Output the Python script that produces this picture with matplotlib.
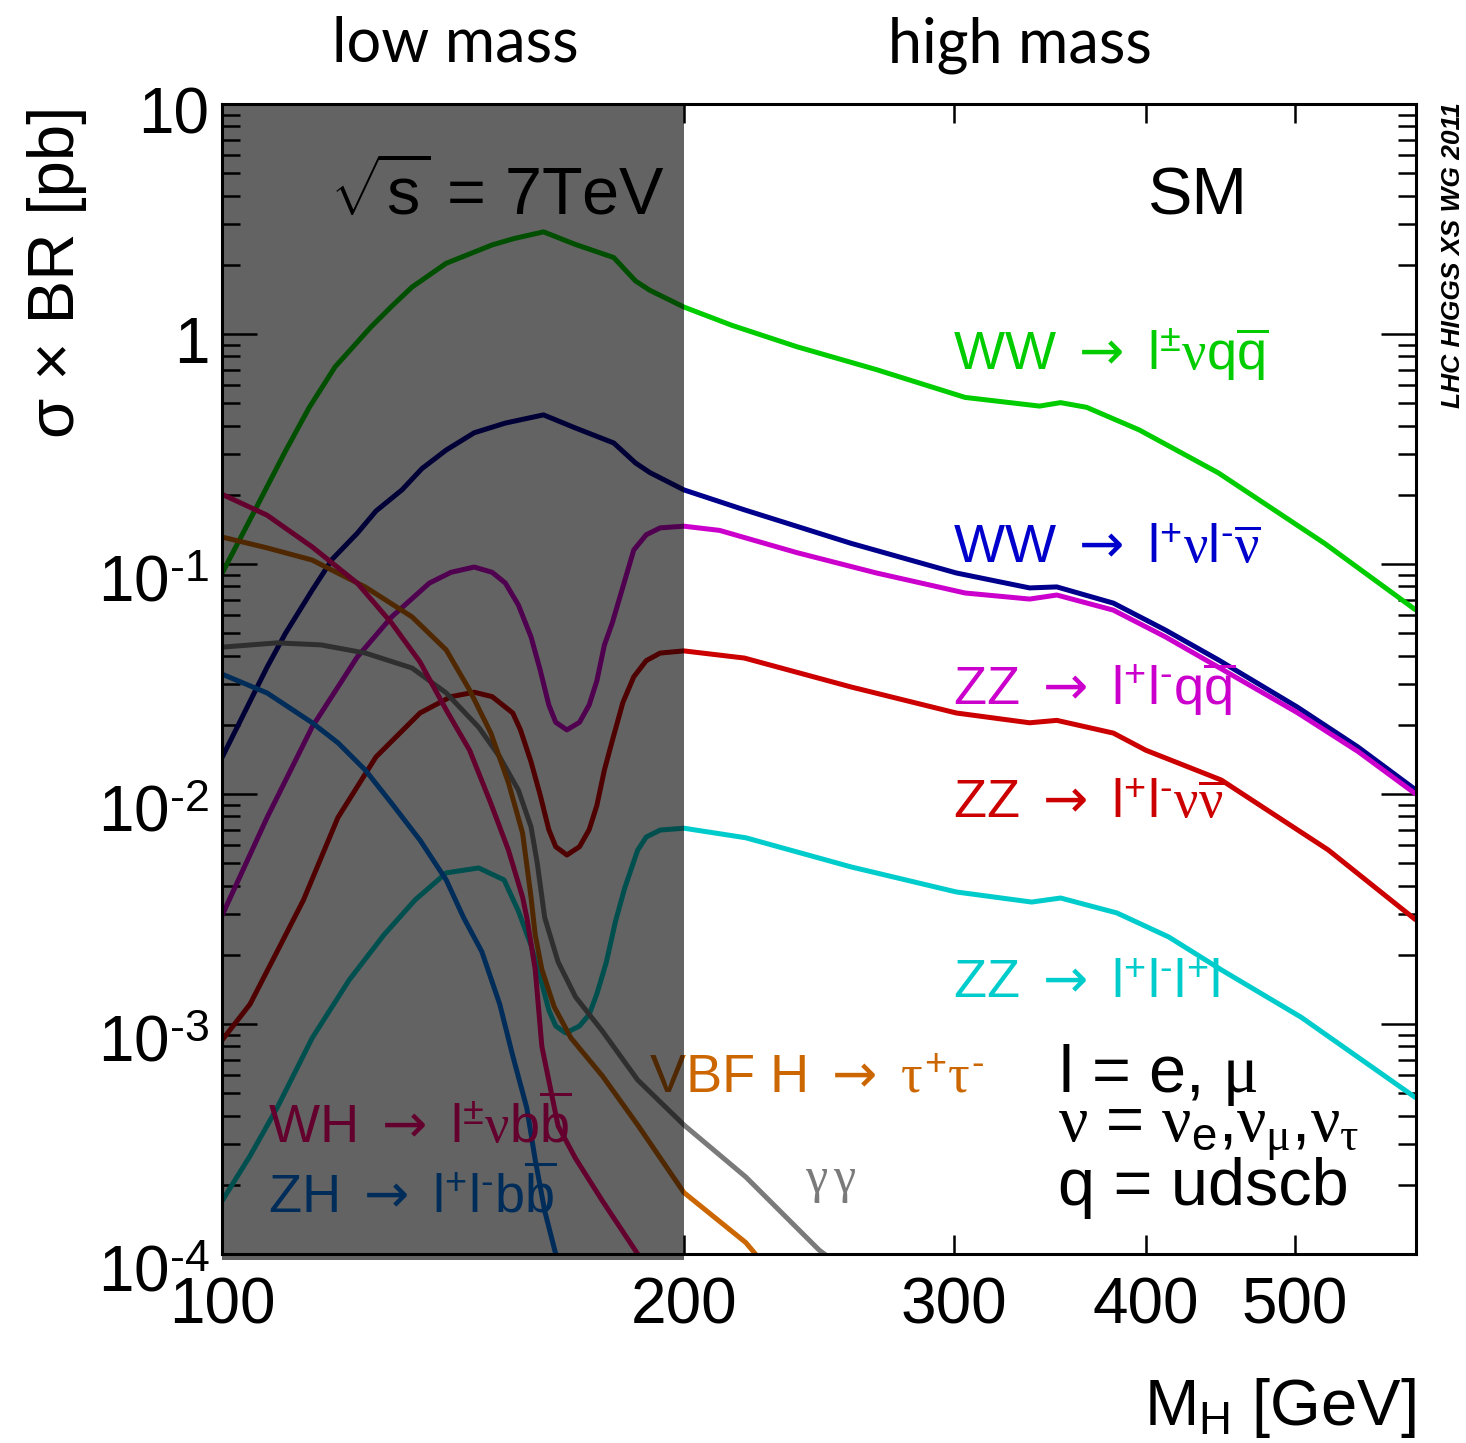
import matplotlib
matplotlib.use("Agg")
import matplotlib.pyplot as plt
import matplotlib.transforms as mtransforms
from matplotlib.patches import Rectangle
from matplotlib.ticker import LogLocator, NullLocator, NullFormatter

plt.rcParams['font.family'] = ['Liberation Sans', 'DejaVu Sans']
plt.rcParams['mathtext.fontset'] = 'custom'
plt.rcParams['mathtext.rm'] = 'Liberation Sans'
plt.rcParams['mathtext.it'] = 'Liberation Serif'
plt.rcParams['mathtext.bf'] = 'Liberation Sans:bold'
plt.rcParams['mathtext.sf'] = 'DejaVu Sans'

# sigma x BR [pb] against M_H [GeV], 7 TeV
m_ww_lvqq = [100, 105, 110, 114, 118.5, 125, 129, 133, 140, 150, 155, 162, 170, 180, 186, 190, 200,
             215, 237, 267, 305, 341, 352, 366, 396, 446, 523, 600]
xs_ww_lvqq = [0.091, 0.17, 0.31, 0.48, 0.72, 1.07, 1.32, 1.6, 2.03, 2.44, 2.6, 2.78, 2.45, 2.15, 1.7, 1.55, 1.31,
              1.09, 0.88, 0.70, 0.53, 0.486, 0.503, 0.48, 0.383, 0.249, 0.123, 0.063]

m_ww_lvlv = [100, 107, 110, 114.5, 118, 122.5, 126, 131, 135, 140, 146, 153, 162, 170, 180, 186, 190, 200, 219,
             257, 301, 336, 350, 381, 412, 446, 502, 550, 600]
xs_ww_lvlv = [0.0144, 0.0356, 0.05, 0.077, 0.105, 0.136, 0.17, 0.21, 0.26, 0.313, 0.372, 0.41, 0.445, 0.39, 0.336, 0.275, 0.25, 0.21, 0.172,
              0.123, 0.0914, 0.0787, 0.0795, 0.0676, 0.0516, 0.0383, 0.0239, 0.016, 0.0104]

m_zz_llqq = [100, 107, 114.5, 122.5, 129, 136.5, 141, 146, 150, 153, 156, 159, 161.2, 163.3, 165, 167.8, 171,
             173.5, 175.5, 177.5, 179.6, 185.5, 189, 193, 200, 211, 237, 267, 305, 336, 350, 381, 412, 446,
             502, 550, 600]
xs_zz_llqq = [0.00296, 0.0079, 0.0196, 0.0394, 0.0589, 0.0826, 0.092, 0.097, 0.092, 0.0826, 0.0664, 0.0482, 0.0346, 0.0244, 0.0205, 0.019, 0.0205,
              0.0244, 0.031, 0.0444, 0.0553, 0.115, 0.134, 0.1436, 0.146, 0.14, 0.112, 0.0914, 0.0748, 0.0704, 0.0733, 0.063, 0.0482, 0.0356,
              0.0226, 0.0153, 0.00998]

m_zz_llvv = [100, 104.3, 108.6, 113, 119, 126, 134.6, 141, 146, 150, 154.7, 156.5, 159, 161.2, 163.3, 165, 167.8,
             171, 173.5, 175.5, 177.5, 179.6, 182.5, 185.5, 189, 193, 200, 219, 257, 301, 336, 350, 381, 400,
             448, 526, 600]
xs_zz_llvv = [0.00085, 0.00122, 0.00206, 0.00346, 0.0079, 0.0145, 0.0225, 0.0265, 0.0277, 0.0265, 0.0225, 0.019, 0.0138, 0.0099, 0.007, 0.0059, 0.00543,
              0.0059, 0.007, 0.0089, 0.0127, 0.017, 0.025, 0.0323, 0.038, 0.041, 0.0419, 0.039, 0.0292, 0.0225, 0.0204, 0.0209, 0.0184, 0.0155,
              0.0115, 0.00571, 0.00283]

m_zz_4l = [100, 104.3, 108.6, 114.5, 121, 127.5, 133.6, 140, 147, 152.7, 156, 159, 161.2, 163.3, 165, 167.5,
           171, 173.5, 175.5, 178, 180.5, 183, 186.6, 189, 193, 200, 219.5, 257, 301, 337, 352, 383, 414, 448,
           505, 600]
xs_zz_4l = [0.00017, 0.000267, 0.000431, 0.00087, 0.00155, 0.00244, 0.00346, 0.00454, 0.00477, 0.00423, 0.0031, 0.0022, 0.0016, 0.00115, 0.00098, 0.000914,
            0.00098, 0.0011, 0.00135, 0.00185, 0.0028, 0.0039, 0.0057, 0.0065, 0.00697, 0.0071, 0.00645, 0.00482, 0.00375, 0.00339, 0.00353, 0.00304, 0.00239, 0.00172,
            0.00107, 0.000477]

m_gamgam = [100, 108.6, 116, 124, 133, 140, 147, 151.7, 156, 159, 160.5, 162.3, 165.6, 170, 177,
            186.6, 200, 219.5, 245, 250]
xs_gamgam = [0.0435, 0.0454, 0.0445, 0.041, 0.0353, 0.0275, 0.0195, 0.0145, 0.0104, 0.0072, 0.005, 0.0029, 0.00186, 0.00131, 0.00093,
             0.000571, 0.000364, 0.000216, 0.000104, 0.000094]

m_vbf_tautau = [100, 107, 114.5, 124, 133, 140, 145, 149.7, 153.7, 157, 159, 160, 161.6, 164.6, 168.8,
                177, 186.6, 200, 219.5, 225]
xs_vbf_tautau = [0.131, 0.1175, 0.104, 0.0794, 0.0589, 0.0423, 0.0283, 0.0184, 0.0112, 0.00676, 0.00356, 0.00244, 0.00173, 0.00119, 0.00087,
                 0.000594, 0.000364, 0.000185, 0.000112, 0.000092]

m_wh_lvbb = [100, 107, 114.5, 122.5, 129, 134.6, 140, 145, 149.7, 153.7, 157, 158, 160, 161.6, 165.6,
             170, 177, 186.6, 188]
xs_wh_lvbb = [0.201, 0.163, 0.1186, 0.0826, 0.0553, 0.0375, 0.0232, 0.0155, 0.0091, 0.0057, 0.00356, 0.0029, 0.00173, 0.0008, 0.00036,
              0.00026, 0.00017, 0.0001, 0.000092]

m_zh_llbb = [100, 107, 114.5, 119, 124, 129, 134.6, 140, 143.7, 147.7, 151.7, 154.7, 158, 160, 162.3, 165, 166]
xs_zh_llbb = [0.0332, 0.0275, 0.0204, 0.0167, 0.0127, 0.0091, 0.0063, 0.00423, 0.0029, 0.00206, 0.00122, 0.000727, 0.000431,
              0.000257, 0.000154, 0.0001, 0.00009]

x_ticks = [100, 200, 300, 400, 500]
x_tick_labels = ['100', '200', '300', '400', '500']
y_ticks = [1e-4, 1e-3, 1e-2, 1e-1, 1, 10]
y_tick_labels = [r'$10^{\text{-4}}$', r'$10^{\text{-3}}$', r'$10^{\text{-2}}$', r'$10^{\text{-1}}$', '1', '10']

fig = plt.figure(figsize=(14.66, 14.43), dpi=100)
ax = fig.add_axes([222 / 1466, 1 - 1254 / 1443, 1194 / 1466, 1150 / 1443])

lw = 3.6
curves = [
    (m_ww_lvqq, xs_ww_lvqq, '#00cc00'),
    (m_ww_lvlv, xs_ww_lvlv, '#00008c'),
    (m_zz_llqq, xs_zz_llqq, '#cc00cc'),
    (m_zz_llvv, xs_zz_llvv, '#cc0000'),
    (m_zz_4l, xs_zz_4l, '#00cccc'),
    (m_gamgam, xs_gamgam, '#7a7a7a'),
    (m_vbf_tautau, xs_vbf_tautau, '#cc6600'),
    (m_wh_lvbb, xs_wh_lvbb, '#ff0075'),
    (m_zh_llbb, xs_zh_llbb, '#0073e6'),
]
for m, xs, c in curves:
    ax.plot(m, xs, color=c, lw=lw, solid_joinstyle='round', solid_capstyle='butt', zorder=2)

ax.set_xscale('log')
ax.set_yscale('log')
ax.set_xlim(100, 600)
ax.set_ylim(1e-4, 10)

# darkened low-mass band, drawn over curves and labels
trans = mtransforms.blended_transform_factory(ax.transData, ax.transAxes)
ax.add_patch(Rectangle((100, -6 / 1150), 100, 1 + 6 / 1150, transform=trans,
                       facecolor='black', alpha=0.612, lw=0, zorder=4, clip_on=False))

ax.set_xticks(x_ticks, labels=x_tick_labels)
ax.xaxis.set_minor_locator(NullLocator())
ax.xaxis.set_minor_formatter(NullFormatter())
ax.set_yticks(y_ticks, labels=y_tick_labels)
ax.yaxis.set_minor_locator(LogLocator(base=10, subs=range(2, 10), numticks=20))
ax.yaxis.set_minor_formatter(NullFormatter())

ax.tick_params(which='both', direction='in', top=True, right=True, width=1.8, colors='black')
ax.tick_params(axis='x', which='major', length=14, pad=16, labelsize=46)
ax.tick_params(axis='y', which='major', length=25, pad=9, labelsize=46)
ax.tick_params(axis='y', which='minor', length=13)
for s in ax.spines.values():
    s.set_linewidth(2.2)
    s.set_zorder(6)

# y labels sit a little below their ticks
for lab in ax.get_yticklabels():
    dy = -4 if lab.get_text() in ('1', '10') else -10
    lab.set_transform(lab.get_transform() + mtransforms.ScaledTranslation(0, dy / 72, fig.dpi_scale_trans))

# axis titles
fig.text(0.039, 1 - 272 / 1443, u'σ × BR [pb]', rotation=90, ha='center', va='center', fontsize=47)
fig.text(1416 / 1466, 1 - 1425 / 1443, r'M$_\mathrm{H}$ [GeV]', ha='right', va='baseline', fontsize=47)
fig.text(455 / 1466, 1 - 62 / 1443, 'low mass', ha='center', va='baseline', fontsize=44, family='Lato')
fig.text(1020 / 1466, 1 - 62 / 1443, 'high mass', ha='center', va='baseline', fontsize=44, family='Lato')
fig.text(1453 / 1466, 1 - 255 / 1443, 'LHC HIGGS XS WG 2011', rotation=90, ha='center', va='center',
         fontsize=19, fontweight='bold', fontstyle='italic')

ax.text(0.0905, 0.904, r'$\sqrt{\mathrm{s}}$ = 7TeV', transform=ax.transAxes, fontsize=48,
        va='baseline', zorder=7)
ax.text(0.775, 0.904, 'SM', transform=ax.transAxes, fontsize=48, va='baseline', zorder=7)

arrow = r'$\mathsf{\rightarrow}$'
mns = r'\text{-}'
labels = [
    (0.612, 0.769, r'WW ' + arrow + r' $\mathrm{l}^{\pm}\nu\mathrm{q}\overline{\mathrm{q}}$', '#00cc00'),
    (0.612, 0.601, r'WW ' + arrow + r' $\mathrm{l}^{+}\nu\mathrm{l}^{' + mns + r'}\overline{\nu}$', '#0000cc'),
    (0.612, 0.477, r'ZZ ' + arrow + r' $\mathrm{l}^{+}\mathrm{l}^{' + mns + r'}\mathrm{q}\overline{\mathrm{q}}$', '#cc00cc'),
    (0.612, 0.379, r'ZZ ' + arrow + r' $\mathrm{l}^{+}\mathrm{l}^{' + mns + r'}\nu\overline{\nu}$', '#cc0000'),
    (0.612, 0.223, r'ZZ ' + arrow + r' $\mathrm{l}^{+}\mathrm{l}^{' + mns + r'}\mathrm{l}^{+}\mathrm{l}$', '#00cccc'),
    (0.358, 0.141, r'VBF H ' + arrow + r' $\tau^{+}\tau^{' + mns + r'}$', '#cc6600'),
    (0.0385, 0.0965, r'WH ' + arrow + r' $\mathrm{l}^{\pm}\nu\mathrm{b}\overline{\mathrm{b}}$', '#ff0075'),
    (0.0385, 0.0357, r'ZH ' + arrow + r' $\mathrm{l}^{+}\mathrm{l}^{' + mns + r'}\mathrm{b}\overline{\mathrm{b}}$', '#0073e6'),
]
for x, y, s, c in labels:
    ax.text(x, y, s, transform=ax.transAxes, color=c, fontsize=39, va='baseline', zorder=3)

ax.text(0.488, 0.054, r'$\gamma\,\gamma$', transform=ax.transAxes, color='#7a7a7a', fontsize=36,
        va='baseline', zorder=3)

ax.text(0.700, 0.141, r'l = e, $\mu$', transform=ax.transAxes, fontsize=48, va='baseline', zorder=7)
ax.text(0.700, 0.097, r'$\nu$ = $\nu_\mathrm{e}$,$\nu_\mu$,$\nu_\tau$', transform=ax.transAxes,
        fontsize=47, va='baseline', zorder=7)
ax.text(0.700, 0.0426, 'q = udscb', transform=ax.transAxes, fontsize=48, va='baseline', zorder=7)

fig.savefig('out.png', dpi=100)
